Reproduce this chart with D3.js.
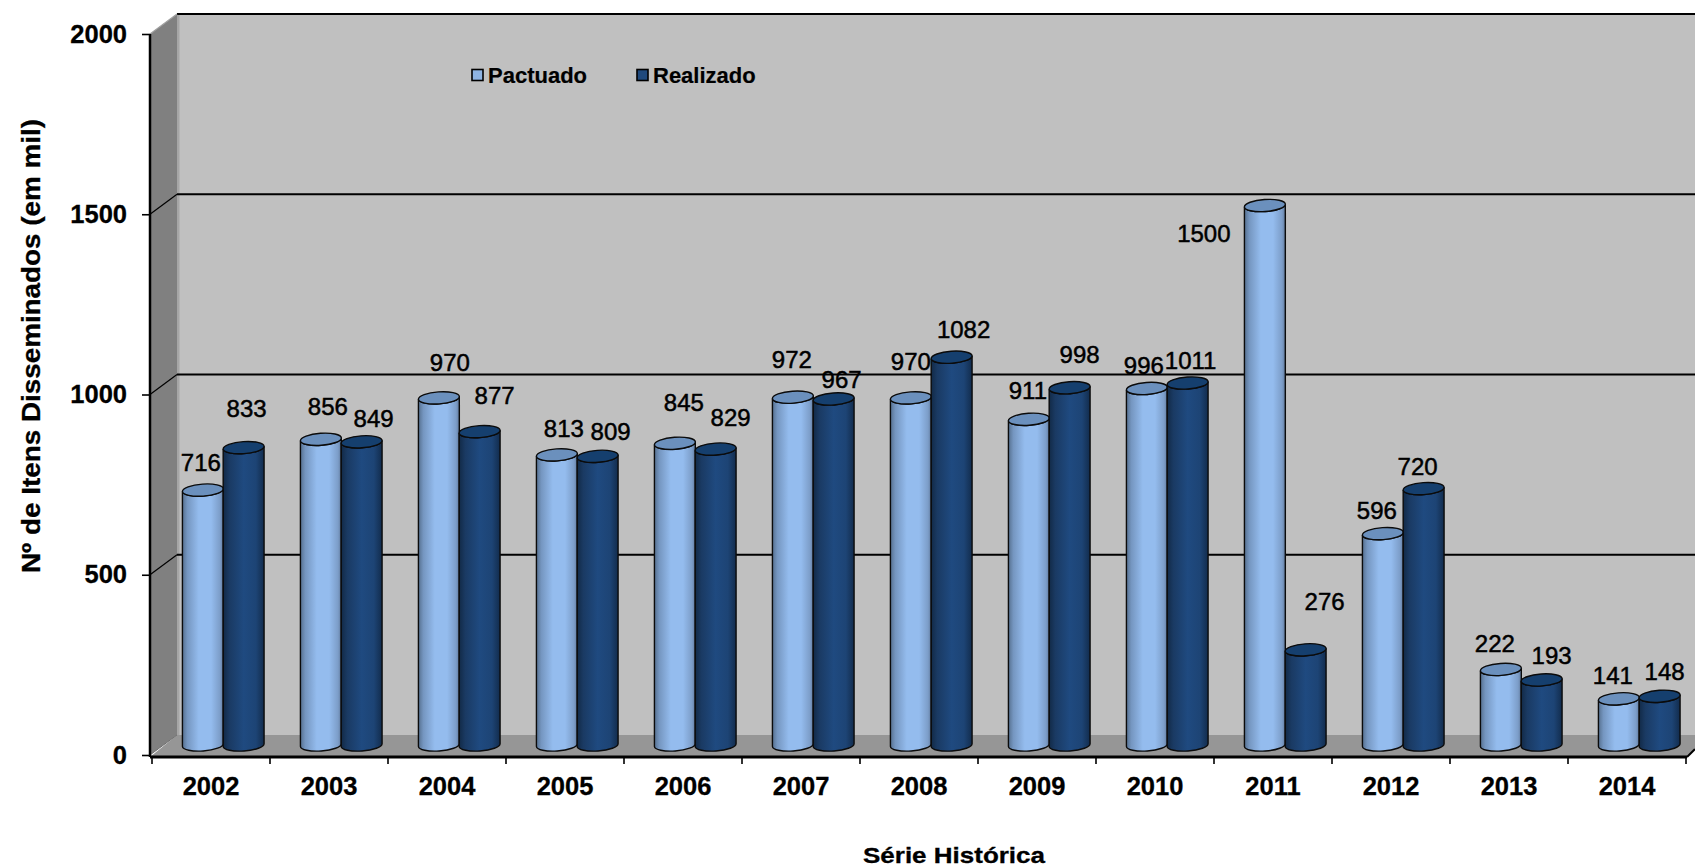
<!DOCTYPE html>
<html><head><meta charset="utf-8">
<script src="https://cdn.jsdelivr.net/npm/d3@7"></script>
<style>
html,body{margin:0;padding:0;background:#fff;overflow:hidden}
svg{display:block}
text{font-family:"Liberation Sans",Arial,sans-serif;fill:#000}
</style></head><body>
<svg id="c" width="1695" height="868"></svg>
<script>
const years=[2002,2003,2004,2005,2006,2007,2008,2009,2010,2011,2012,2013,2014];
const seriesNames=["Pactuado","Realizado"];
const pactuado=[716,856,970,813,845,972,970,911,996,1500,596,222,141];
const realizado=[833,849,877,809,829,967,1082,998,1011,276,720,193,148];
const yTicks=[0,500,1000,1500,2000];
// hand-placed label offsets in the original chart (px from top of each cylinder)
const pactuadoLabelDx=[-2,7,11,7,9,-1,0,-1,-3,-61,-6,-6,-6];
const pactuadoLabelDy=[-25,-30,-32,-24,-38,-35,-33,-26,-20,32,-21,-25,-23];
const realizadoLabelDx=[3,12,15,13,15,8,12,10,3,19,-6,10,5];
const realizadoLabelDy=[-37,-21,-34,-22,-29,-17,-24,-30,-19,-47,-20,-24,-24];

const svg=d3.select("#c");
const defs=svg.append("defs");
function grad(id,stops){
  const g=defs.append("linearGradient").attr("id",id).attr("x1",0).attr("x2",1).attr("y1",0).attr("y2",0);
  stops.forEach(s=>g.append("stop").attr("offset",s[0]).attr("stop-color",s[1]));
}
grad("gL",[[0,"#56708f"],[.12,"#7596c0"],[.4,"#94bcee"],[.7,"#94bcee"],[.92,"#7c9dc8"],[1,"#60799c"]]);
grad("gD",[[0,"#122a47"],[.15,"#1a3a63"],[.5,"#1f4a80"],[.8,"#1d4475"],[1,"#122c4d"]]);

const W=1695, front={l:150,b:755,t:34}, depth={x:27,y:-20}, axisRight=1687;
const yAxisScale=d3.scaleLinear().domain([0,2000]).range([front.b,front.t]);
const yBar=d3.scaleLinear().domain([0,2000]).range([750,24]);
const yLabel=d3.scaleLinear().domain([0,2000]).range([750,18]);
const x=d3.scaleBand().domain(years).range([152,152+118*years.length]);
const xs=d3.scaleBand().domain(seriesNames).range([30.5,112]);
const colors={Pactuado:["url(#gL)","#6b90bd"],Realizado:["url(#gD)","#153f6e"]};
const swatch={Pactuado:"#8eb4e3",Realizado:"#1f497d"};

// side wall, back wall, floor
const bx=front.l+depth.x, wallTop=front.t+depth.y;
svg.append("rect").attr("x",bx).attr("y",wallTop).attr("width",W-bx).attr("height",front.b+depth.y-wallTop).attr("fill","#c0c0c0");
svg.append("polygon").attr("fill","#808080")
  .attr("points",[[front.l,front.t],[bx,wallTop],[bx,front.b+depth.y],[front.l,front.b]].join(" "));
svg.append("rect").attr("x",bx).attr("y",wallTop).attr("width",2.5).attr("height",front.b+depth.y-wallTop).attr("fill","#a6a6a6");
svg.append("polygon").attr("fill","#969696")
  .attr("points",[[front.l,front.b+2],[bx,front.b+depth.y],[W,front.b+depth.y],[W,front.b-7],[axisRight,front.b+2]].join(" "));

// gridlines on walls
yTicks.forEach(v=>{
  const y=yAxisScale(v);
  if(v===0){
    svg.append("line").attr("x1",front.l).attr("y1",y).attr("x2",bx).attr("y2",y+depth.y).attr("stroke","#6f6f6f").attr("stroke-width",1);
    return;
  }
  svg.append("line").attr("x1",bx).attr("x2",W).attr("y1",y+depth.y).attr("y2",y+depth.y).attr("stroke","#000").attr("stroke-width",1.8);
  svg.append("line").attr("x1",front.l).attr("y1",y).attr("x2",bx).attr("y2",y+depth.y).attr("stroke",v===2000?"#a0a0a0":"#000").attr("stroke-width",1.2);
});

// cylinders
const tilt=-4*Math.PI/180, rx=20.5, ry=6;
function cyl(cx,yt,yb,fill,top){
  const dx=rx*Math.cos(tilt), dy=rx*Math.sin(tilt), a=-4;
  const g=svg.append("g");
  g.append("path").attr("fill",fill).attr("stroke","#0b0b0b").attr("stroke-width",1.4)
   .attr("d",`M${cx-dx},${yt-dy}L${cx-dx},${yb-dy}A${rx},${ry} ${a} 0 0 ${cx+dx},${yb+dy}L${cx+dx},${yt+dy}A${rx},${ry} ${a} 0 1 ${cx-dx},${yt-dy}Z`);
  g.append("ellipse").attr("cx",cx).attr("cy",yt).attr("rx",rx).attr("ry",ry)
   .attr("transform",`rotate(-4 ${cx} ${yt})`).attr("fill",top).attr("stroke","#0b0b0b").attr("stroke-width",1.4);
}
const table=[
 {name:"Pactuado",vals:pactuado,dx:pactuadoLabelDx,dy:pactuadoLabelDy},
 {name:"Realizado",vals:realizado,dx:realizadoLabelDx,dy:realizadoLabelDy}];
years.forEach((yr,i)=>{
  table.forEach(s=>{
    const cx=x(yr)+xs(s.name)+xs.bandwidth()/2;
    cyl(cx,yBar(s.vals[i]),yBar(0)-5,colors[s.name][0],colors[s.name][1]);
  });
});

// axes
const ya=svg.append("g").attr("transform",`translate(${front.l},0)`)
  .call(d3.axisLeft(yAxisScale).tickValues(yTicks).tickSize(8).tickPadding(15).tickFormat(d3.format("d")));
ya.select(".domain").attr("stroke","#000").attr("stroke-width",2.5).attr("d",`M0,${front.t}V${front.b+2}`);
ya.selectAll(".tick line").attr("stroke","#000").attr("stroke-width",1.6);
ya.selectAll("text").attr("font-size",25.5).attr("font-weight","bold").attr("fill","#000").attr("stroke","#000").attr("stroke-width",.3);

const xa=svg.append("g").attr("transform",`translate(0,${front.b+2})`)
  .call(d3.axisBottom(x).tickSize(0).tickPadding(20));
xa.select(".domain").attr("stroke","#000").attr("stroke-width",3).attr("d",`M${front.l},0H${axisRight}`);
xa.selectAll("text").attr("font-size",25.5).attr("font-weight","bold").attr("fill","#000").attr("stroke","#000").attr("stroke-width",.3);
[...years,null].forEach((yr,i)=>{
  const tx=152+x.bandwidth()*i;
  if(tx<axisRight) svg.append("line").attr("x1",tx).attr("x2",tx).attr("y1",front.b+2).attr("y2",front.b+9).attr("stroke","#000").attr("stroke-width",1.6);
});
svg.append("line").attr("x1",axisRight).attr("y1",front.b+2).attr("x2",W).attr("y2",front.b-6).attr("stroke","#000").attr("stroke-width",2);

// value labels
const labelLayer=svg.append("g");
table.forEach(s=>{
  labelLayer.selectAll(null).data(years).join("text")
   .attr("text-anchor","middle").attr("dominant-baseline","central")
   .attr("font-size",24).attr("stroke","#000").attr("stroke-width",.5)
   .attr("x",(yr,i)=>x(yr)+xs(s.name)+xs.bandwidth()/2+s.dx[i])
   .attr("y",(yr,i)=>yLabel(s.vals[i])+s.dy[i])
   .text((yr,i)=>s.vals[i]);
});

// legend
const legendX=d3.scaleOrdinal().domain(seriesNames).range([472,637]);
seriesNames.forEach(n=>{
  const lx=legendX(n);
  svg.append("rect").attr("x",lx).attr("y",69.5).attr("width",11).attr("height",11).attr("fill",swatch[n]).attr("stroke","#000").attr("stroke-width",1.6);
  svg.append("text").attr("x",lx+16).attr("y",75).attr("dominant-baseline","central").attr("font-size",22).attr("font-weight","bold").attr("stroke","#000").attr("stroke-width",.2).text(n);
});

// axis titles
svg.append("text").attr("transform","translate(31,346) rotate(-90)").attr("text-anchor","middle").attr("dominant-baseline","central")
  .attr("font-size",25).attr("font-weight","bold").attr("stroke","#000").attr("stroke-width",.3)
  .attr("textLength",454).attr("lengthAdjust","spacingAndGlyphs").text("Nº de Itens Disseminados (em mil)");
svg.append("text").attr("x",954).attr("y",855).attr("text-anchor","middle").attr("dominant-baseline","central")
  .attr("font-size",22).attr("font-weight","bold").attr("stroke","#000").attr("stroke-width",.3)
  .attr("textLength",182).attr("lengthAdjust","spacingAndGlyphs").text("Série Histórica");
</script>
</body></html>
